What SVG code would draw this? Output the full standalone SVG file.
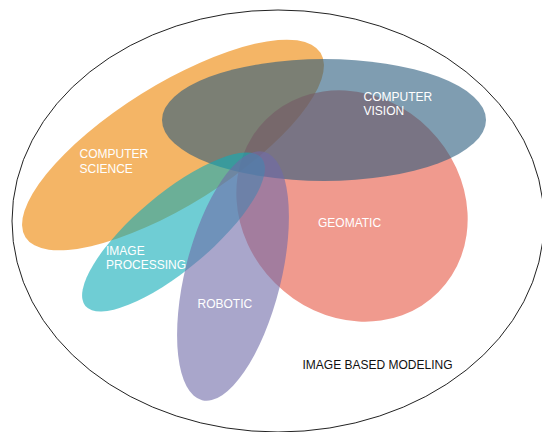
<svg xmlns="http://www.w3.org/2000/svg" width="542" height="432" viewBox="0 0 542 432">
<style>
.set{opacity:0.6}
.lbl{font-family:"Liberation Sans",Arial,sans-serif;font-size:12px;fill:#ffffff}
.dark{font-family:"Liberation Sans",Arial,sans-serif;font-size:12px;fill:#111111}
</style>
<rect width="542" height="432" fill="#ffffff"/>
<g id="image-based-modeling">
<ellipse cx="278" cy="221" rx="266" ry="211" fill="none" stroke="#222" stroke-width="1"/>
<text class="dark" x="302.5" y="368.5">IMAGE BASED MODELING</text>
</g>
<g id="computer-science">
<ellipse class="set" cx="173" cy="145" rx="174" ry="60" transform="rotate(-32 173 145)" fill="#ED8400"/>
</g>
<g id="geomatic">
<ellipse class="set" cx="352" cy="206" rx="122" ry="109" transform="rotate(45 352 206)" fill="#E65743"/>
</g>
<g id="computer-vision">
<ellipse class="set" cx="324" cy="120" rx="162" ry="61" fill="#2A5C7D"/>
</g>
<g id="image-processing">
<ellipse class="set" cx="173.5" cy="232" rx="115" ry="38" transform="rotate(-40 173.5 232)" fill="#0FACB7"/>
</g>
<g id="robotic">
<ellipse class="set" cx="233" cy="276" rx="48" ry="128" transform="rotate(14 233 276)" fill="#706BA8"/>
</g>
<g id="labels">
<text class="lbl" x="79.5" y="158">COMPUTER</text>
<text class="lbl" x="79.5" y="172.5">SCIENCE</text>
<text class="lbl" x="363.5" y="100.5">COMPUTER</text>
<text class="lbl" x="363.5" y="115">VISION</text>
<text class="lbl" x="318" y="227">GEOMATIC</text>
<text class="lbl" x="106" y="254.5">IMAGE</text>
<text class="lbl" x="106" y="268.5">PROCESSING</text>
<text class="lbl" x="197.5" y="308">ROBOTIC</text>
</g>
<g id="connectors"/>
</svg>
